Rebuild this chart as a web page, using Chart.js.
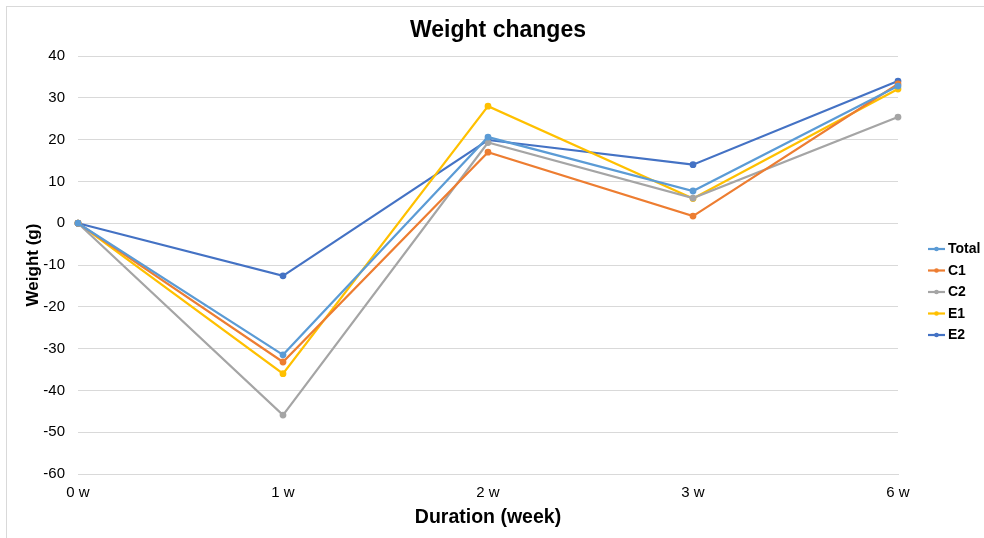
<!DOCTYPE html>
<html><head><meta charset="utf-8">
<script src="https://cdn.jsdelivr.net/npm/chart.js@4"></script>
<style>html,body{margin:0;padding:0;background:#fff}#wrap{width:984px;height:538px}</style>
</head><body><div id="wrap"><canvas id="c" width="984" height="538"></canvas></div>
<script>
const categories = ['0 w','1 w','2 w','3 w','6 w'];
const seriesNames = ['Total','C1','C2','E1','E2'];
const total = [0, -31.5, 20.6, 7.7, 32.8];
const c1    = [0, -33.2, 17.0, 1.7, 33.3];
const c2    = [0, -45.9, 19.3, 6.0, 25.4];
const e1    = [0, -36.0, 28.0, 5.9, 32.1];
const e2    = [0, -12.6, 19.9, 14.0, 34.0];
const yTicks = [40,30,20,10,0,-10,-20,-30,-40,-50,-60];
const colors = ['#5B9BD5','#ED7D31','#A5A5A5','#FFC000','#4472C4'];
const values = [total,c1,c2,e1,e2];
const FONT = '"Liberation Sans", Arial, sans-serif';

const datasets = seriesNames.map((n,i)=>({
  label:n, data:values[i], borderColor:colors[i], backgroundColor:colors[i],
  borderWidth:2.2, pointRadius:2.3, pointHoverRadius:2.3, tension:0, fill:false
}));

const legendPlugin = {
  id:'customLegend',
  afterDraw(chart){
    const ctx = chart.ctx;
    ctx.save();
    ctx.strokeStyle='#d9d9d9'; ctx.lineWidth=1;
    ctx.strokeRect(6.5,6.5,990,540);
    const x0=928, y0=249, step=21.5;
    chart.data.datasets.forEach((ds,i)=>{
      const y=y0+i*step;
      ctx.strokeStyle=ds.borderColor; ctx.lineWidth=2.2;
      ctx.beginPath(); ctx.moveTo(x0,y); ctx.lineTo(x0+17,y); ctx.stroke();
      ctx.fillStyle=ds.borderColor;
      ctx.beginPath(); ctx.arc(x0+8.5,y,2.3,0,Math.PI*2); ctx.fill();
      ctx.fillStyle='#000'; ctx.font='bold 14px '+FONT;
      ctx.textBaseline='middle'; ctx.textAlign='left';
      ctx.fillText(ds.label,x0+20,y+0.5);
    });
    ctx.restore();
  }
};

new Chart(document.getElementById('c'),{
  type:'line',
  data:{labels:categories, datasets},
  options:{
    responsive:false, animation:false, devicePixelRatio:1,
    layout:{padding:{top:0,right:0,left:12,bottom:0}},
    plugins:{
      legend:{display:false}, tooltip:{enabled:false},
      title:{display:true,text:'Weight changes',color:'#000',
        font:{family:FONT,size:23,weight:'bold'},
        padding:{top:16.5,bottom:11.9}}
    },
    scales:{
      x:{
        offset:false,
        afterFit(s){ s.height = 64; },
        grid:{display:false, drawTicks:false},
        border:{color:'#d9d9d9'},
        ticks:{color:'#000',font:{family:FONT,size:15},padding:10},
        title:{display:true,text:'Duration (week)',color:'#000',
          font:{family:FONT,size:19.5,weight:'bold'},padding:{top:4,bottom:8.5}}
      },
      y:{
        min:-60,max:40,
        afterBuildTicks(s){ s.ticks = yTicks.map(v=>({value:v})); },
        afterFit(s){ s.width = 66; },
        grid:{color:'#d9d9d9', drawTicks:false},
        border:{display:false},
        ticks:{color:'#000',font:{family:FONT,size:15},padding:13},
        title:{display:true,text:'Weight (g)',color:'#000',
          font:{family:FONT,size:17,weight:'bold'},padding:{top:11,bottom:4}}
      },
      yRightSpace:{
        position:'right', min:-60, max:40,
        afterFit(s){ s.width = 86; },
        grid:{display:false, drawTicks:false},
        border:{display:false},
        ticks:{display:false}
      }
    }
  },
  plugins:[legendPlugin]
});
</script></body></html>
